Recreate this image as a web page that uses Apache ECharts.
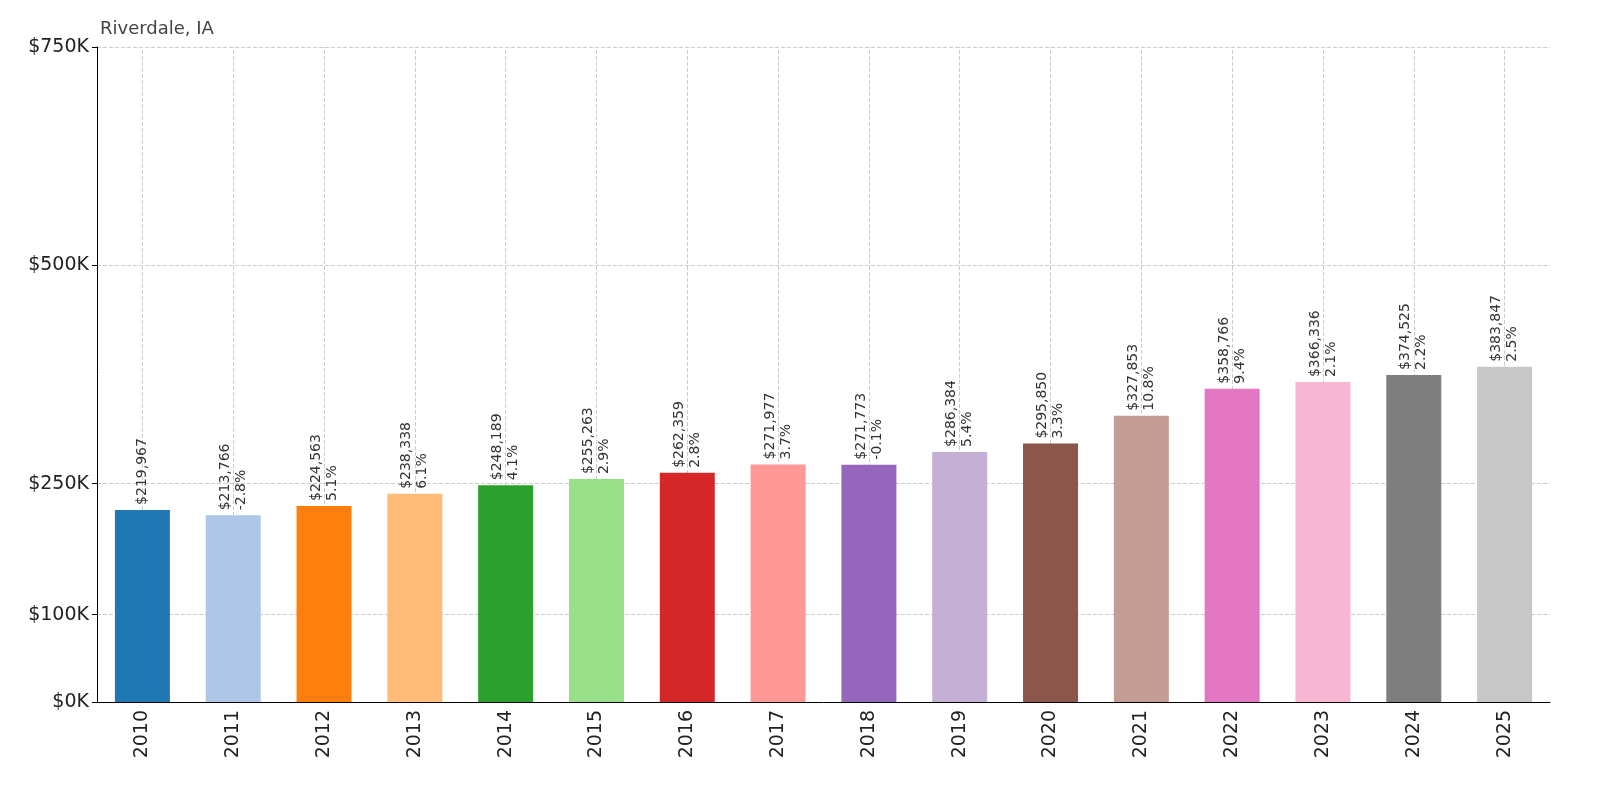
<!DOCTYPE html><html><head><script src="https://cdn.jsdelivr.net/npm/echarts@6/dist/echarts.min.js"></script></head><body style="margin:0"><div id="c" style="width:1600px;height:800px"></div><script>
const years=['2010','2011','2012','2013','2014','2015','2016','2017','2018','2019','2020','2021','2022','2023','2024','2025'];
const values=[219967,213766,224563,238338,248189,255263,262359,271977,271773,286384,295850,327853,358766,366336,374525,383847];
const pct=['','-2.8%','5.1%','6.1%','4.1%','2.9%','2.8%','3.7%','-0.1%','5.4%','3.3%','10.8%','9.4%','2.1%','2.2%','2.5%'];
const colors=['#1f77b4','#aec7e8','#ff7f0e','#ffbb78','#2ca02c','#98df8a','#d62728','#ff9896','#9467bd','#c5b0d5','#8c564b','#c49c94','#e377c2','#f7b6d2','#7f7f7f','#c7c7c7'];
const yTicks=[0,100000,250000,500000,750000];
const dash={type:'dashed',color:'#ccc',width:1};
const ch=echarts.init(document.getElementById('c'));
ch.setOption({
title:{text:'Riverdale, IA',left:95,top:16,textStyle:{fontSize:18,fontWeight:'normal',color:'#444',fontFamily:'DejaVu Sans'}},
grid:{left:97,right:50,top:47,bottom:98},
xAxis:{type:'category',data:years,axisLine:{lineStyle:{color:'#000'}},axisTick:{alignWithLabel:true,length:5,lineStyle:{color:'#000'}},
axisLabel:{rotate:90,fontSize:19,color:'#222',fontFamily:'DejaVu Sans'}},
yAxis:{type:'value',min:0,max:750000,splitLine:{show:false},axisLine:{show:true,lineStyle:{color:'#000'}},
axisTick:{show:true,customValues:yTicks,length:5,lineStyle:{color:'#000'}},
axisLabel:{customValues:yTicks,fontSize:19,color:'#222',fontFamily:'DejaVu Sans',formatter:v=>'$'+(v/1000)+'K'}},
series:[{type:'bar',barWidth:55,data:values.map((v,i)=>({value:v,itemStyle:{color:colors[i]}})),
label:{show:true,position:'top',rotate:90,align:'left',verticalAlign:'middle',distance:5,fontSize:14,color:'#333',fontFamily:'DejaVu Sans',lineHeight:16,
formatter:p=>'$'+values[p.dataIndex].toLocaleString('en-US')+(pct[p.dataIndex]?'\n'+pct[p.dataIndex]:'')},
markLine:{silent:true,symbol:'none',label:{show:false},lineStyle:dash,z:0,
data:yTicks.slice(1).map(v=>({yAxis:v})).concat(years.map(y=>({xAxis:y})))}}]
});
ch.setOption({title:{top:6}});
</script></body></html>
